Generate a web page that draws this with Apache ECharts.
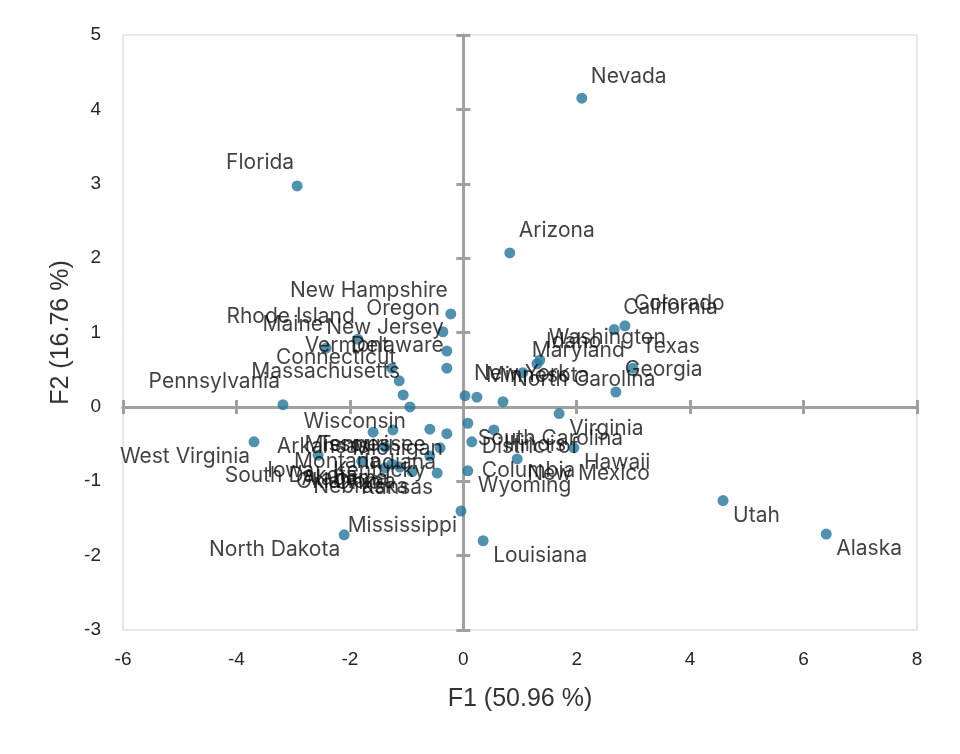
<!DOCTYPE html>
<html>
<head>
<meta charset="utf-8">
<script src="https://cdn.jsdelivr.net/npm/echarts@6/dist/echarts.min.js"></script>
<style>html,body{margin:0;padding:0;background:#fff;}#c{width:960px;height:754px;}</style>
</head>
<body>
<div id="c"></div>
<script>
// ---- data ----
const states = ["Nevada","Florida","Arizona","Colorado","California","Washington","Idaho","Maryland","Texas","Georgia",
  "New York","Minnesota","North Carolina","Virginia","South Carolina","District of Columbia","Illinois","Hawaii","New Mexico","Wyoming",
  "Mississippi","Louisiana","Utah","Alaska","North Dakota","West Virginia","Pennsylvania","New Hampshire","Oregon","New Jersey",
  "Delaware","Maine","Rhode Island","Vermont","Connecticut","Massachusetts","Wisconsin","Tennessee","Missouri","Arkansas",
  "Michigan","Montana","Indiana","Iowa","Kentucky","South Dakota","Alabama","Oklahoma","Ohio","Nebraska","Kansas"];
const f1 = [2.09,-2.93,0.82,2.85,2.66,1.35,1.30,1.05,2.99,2.69,
  0.03,0.24,0.70,1.69,0.08,0.15,0.54,1.95,0.95,0.08,
  -0.04,0.35,4.58,6.40,-2.10,-3.69,-3.18,-0.22,-0.36,-0.29,
  -0.29,-2.42,-1.86,-1.26,-1.13,-1.06,-0.94,-0.59,-1.24,-1.59,
  -0.29,-1.38,-0.41,-2.56,-0.59,-1.79,-1.26,-1.12,-1.38,-0.90,-0.46];
const f2 = [4.15,2.97,2.07,1.09,1.04,0.63,0.58,0.46,0.52,0.20,
  0.15,0.13,0.07,-0.09,-0.22,-0.47,-0.31,-0.55,-0.70,-0.86,
  -1.40,-1.80,-1.26,-1.71,-1.72,-0.47,0.03,1.25,1.01,0.75,
  0.52,0.79,0.91,0.52,0.35,0.16,0.00,-0.30,-0.31,-0.34,
  -0.36,-0.54,-0.55,-0.65,-0.66,-0.73,-0.77,-0.81,-0.82,-0.87,-0.89];
const xTitle = "F1 (50.96 %)";
const yTitle = "F2 (16.76 %)";

// ---- label layout (style, not data) ----
const sideOf = {
  AR: ["Nevada","Arizona","Colorado","California","Washington","Idaho","Maryland","Texas","Georgia","New York","Minnesota","North Carolina"],
  AL: ["Florida","Pennsylvania","New Hampshire","Oregon","New Jersey","Delaware","Maine","Rhode Island","Vermont","Connecticut","Massachusetts"],
  BR: ["Virginia","South Carolina","District of Columbia","Illinois","Hawaii","New Mexico","Wyoming","Louisiana","Utah","Alaska"]
};
const SYM = 11, C = SYM / 2;
const sideStyle = {
  AR: {align: 'left', dx: 9, dy: -22},
  AL: {align: 'right', dx: -3, dy: -23},
  BR: {align: 'left', dx: 10, dy: 15},
  BL: {align: 'right', dx: -4, dy: 15}
};
function sideFor(name) {
  for (const k in sideOf) if (sideOf[k].indexOf(name) >= 0) return k;
  return 'BL';
}
const labelText = {"District of Columbia": "District of\nColumbia"};

const points = states.map((s, i) => {
  const st = sideStyle[sideFor(s)];
  const extra = labelText[s] ? 2 : 0;
  return {name: s, value: [f1[i], f2[i]],
    label: {position: [C + st.dx, C + st.dy + extra], align: st.align, verticalAlign: 'middle'}};
});

const tickFont = {fontFamily: '"Liberation Sans", Arial, sans-serif', fontSize: 19, color: '#262626'};
const titleFont = {fontFamily: '"Liberation Sans", Arial, sans-serif', fontSize: 25, color: '#333333'};
const zeroLine = {color: '#a0a0a0', width: 3};

function zeroX(inside) {
  return {type: 'value', min: -6, max: 8, interval: 2, position: 'bottom',
    axisLine: {show: true, onZero: true, lineStyle: zeroLine},
    axisTick: {show: true, inside: inside, length: 7, lineStyle: {color: '#a0a0a0', width: 3}},
    axisLabel: {show: false}, splitLine: {show: false}};
}
function zeroY(inside) {
  return {type: 'value', min: -3, max: 5, interval: 1, position: 'left',
    axisLine: {show: true, onZero: true, lineStyle: zeroLine},
    axisTick: {show: true, inside: inside, length: 7, lineStyle: {color: '#a0a0a0', width: 3}},
    axisLabel: {show: false}, splitLine: {show: false}};
}

const chart = echarts.init(document.getElementById('c'), null, {renderer: 'canvas'});
chart.setOption({
  animation: false,
  backgroundColor: '#ffffff',
  grid: {left: 123, right: 43, top: 35, bottom: 124, show: true, borderColor: '#d0d0d0', borderWidth: 1, containLabel: false},
  xAxis: [
    {type: 'value', min: -6, max: 8, interval: 2, position: 'bottom',
      axisLine: {show: false, onZero: false}, axisTick: {show: false}, splitLine: {show: false},
      axisLabel: Object.assign({margin: 20}, tickFont),
      name: xTitle, nameLocation: 'middle', nameGap: 57, nameTextStyle: titleFont},
    zeroX(false), zeroX(true)
  ],
  yAxis: [
    {type: 'value', min: -3, max: 5, interval: 1, position: 'left',
      axisLine: {show: false, onZero: false}, axisTick: {show: false}, splitLine: {show: false},
      axisLabel: Object.assign({margin: 22}, tickFont),
      name: yTitle, nameLocation: 'middle', nameGap: 47, nameTextStyle: titleFont},
    zeroY(false), zeroY(true)
  ],
  series: [{
    type: 'scatter',
    xAxisIndex: 0, yAxisIndex: 0,
    symbol: 'circle', symbolSize: SYM,
    itemStyle: {color: '#27759a'},
    label: {show: true, formatter: p => labelText[p.name] || p.name,
      color: '#111111', fontFamily: 'Inter, "Noto Sans", sans-serif', fontSize: 21, lineHeight: 24},
    emphasis: {disabled: true},
    z: 5,
    data: points
  }]
});
</script>
</body>
</html>
